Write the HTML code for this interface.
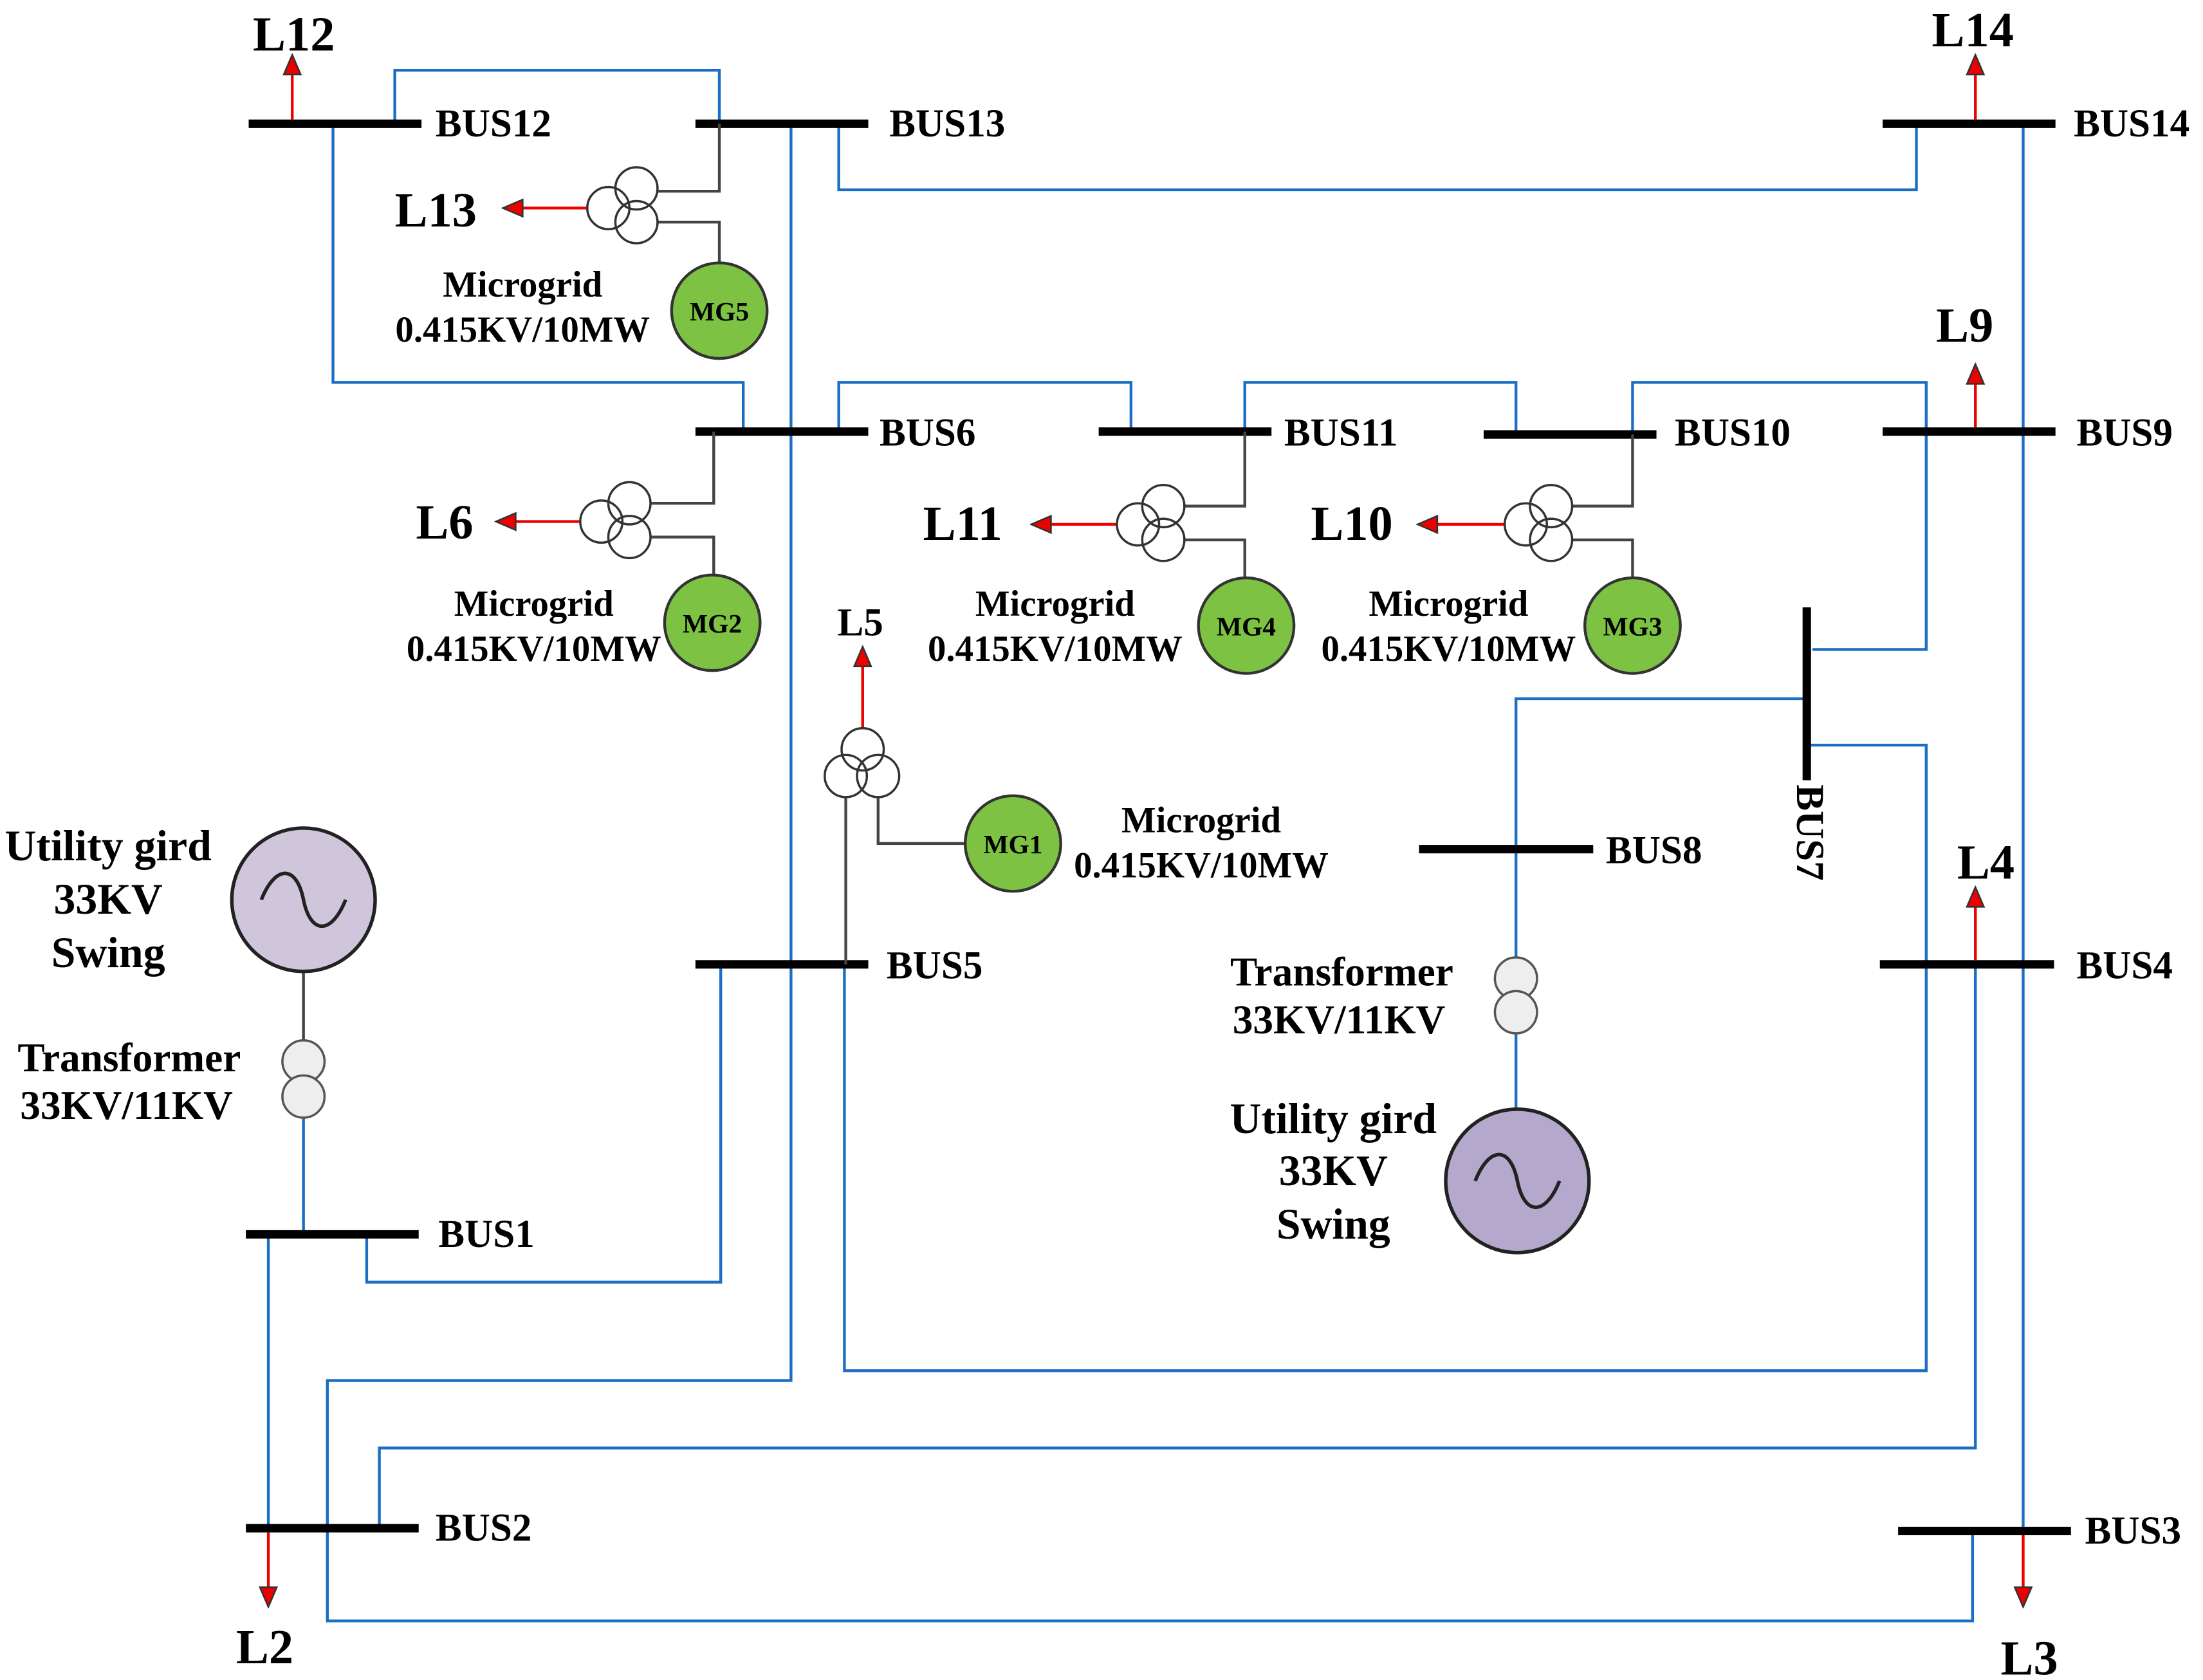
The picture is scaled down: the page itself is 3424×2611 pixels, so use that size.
<!DOCTYPE html>
<html><head><meta charset="utf-8"><style>
html,body{margin:0;padding:0;background:#fff;}
svg{display:block;}
text{font-family:"Liberation Serif",serif;font-weight:bold;fill:#000;}
.b{font-size:28px;}
.l{font-size:35px;}
.m{font-size:26px;}
.u{font-size:31px;}
.bus{stroke:#000;stroke-width:6;}
.bl{stroke:#1a6ec4;stroke-width:2;fill:none;}
.g{stroke:#444;stroke-width:2;fill:none;}
.r{stroke:#e00;stroke-width:2;}
.tc{fill:none;stroke:#333;stroke-width:1.6;}
.mg{fill:#7dc242;stroke:#333;stroke-width:2;}
</style></head><body>
<svg width="3424" height="2611" viewBox="0 0 1568 1195" preserveAspectRatio="none" xmlns="http://www.w3.org/2000/svg">
<defs><marker id="ah" markerWidth="16" markerHeight="14" refX="12" refY="7" orient="auto" markerUnits="userSpaceOnUse" viewBox="0 0 16 14"><path d="M1,1 L15,7 L1,13 z" fill="#e00" stroke="#333" stroke-width="1.2"/></marker></defs>

<!-- blue lines -->
<polyline class="bl" points="281,88 281,50 512,50 512,88"/>
<polyline class="bl" points="237,88 237,272 529,272 529,307"/>
<polyline class="bl" points="597,88 597,135 1364,135 1364,88"/>
<polyline class="bl" points="563,88 563,982 233,982 233,1153 1404,1153 1404,1089"/>
<polyline class="bl" points="597,307 597,272 805,272 805,307"/>
<polyline class="bl" points="886,307 886,272 1079,272 1079,307"/>
<polyline class="bl" points="1162,307 1162,272 1371,272 1371,462 1290,462"/>
<polyline class="bl" points="1286,497 1079,497 1079,681"/>
<polyline class="bl" points="1286,530 1371,530 1371,975 601,975 601,686"/>
<polyline class="bl" points="1440,88 1440,1089"/>
<polyline class="bl" points="1406,686 1406,1030 270,1030 270,1087"/>
<polyline class="bl" points="513,686 513,912 261,912 261,878"/>
<polyline class="bl" points="191,878 191,1087"/>
<polyline class="bl" points="216,795 216,878"/>
<polyline class="bl" points="1079,735 1079,789"/>

<!-- buses -->
<line class="bus" x1="177" y1="88" x2="300" y2="88"/>
<line class="bus" x1="495" y1="88" x2="618" y2="88"/>
<line class="bus" x1="1340" y1="88" x2="1463" y2="88"/>
<line class="bus" x1="495" y1="307" x2="618" y2="307"/>
<line class="bus" x1="782" y1="307" x2="905" y2="307"/>
<line class="bus" x1="1056" y1="309" x2="1179" y2="309"/>
<line class="bus" x1="1340" y1="307" x2="1463" y2="307"/>
<line class="bus" x1="1286" y1="432" x2="1286" y2="555"/>
<line class="bus" x1="1010" y1="604" x2="1134" y2="604"/>
<line class="bus" x1="495" y1="686" x2="618" y2="686"/>
<line class="bus" x1="1338" y1="686" x2="1462" y2="686"/>
<line class="bus" x1="175" y1="878" x2="298" y2="878"/>
<line class="bus" x1="175" y1="1087" x2="298" y2="1087"/>
<line class="bus" x1="1351" y1="1089" x2="1474" y2="1089"/>

<g class="b">
<text x="310" y="97">BUS12</text>
<text x="633" y="97">BUS13</text>
<text x="1476" y="97">BUS14</text>
<text x="626" y="317">BUS6</text>
<text x="914" y="317">BUS11</text>
<text x="1192" y="317">BUS10</text>
<text x="1478" y="317">BUS9</text>
<text x="1143" y="614">BUS8</text>
<text x="631" y="696">BUS5</text>
<text x="1478" y="696">BUS4</text>
<text x="312" y="887">BUS1</text>
<text x="310" y="1096">BUS2</text>
<text x="1484" y="1098">BUS3</text>
<text transform="translate(1279,558) rotate(90)">BUS7</text>
</g>

<!-- loads -->
<line class="r" x1="208" y1="85" x2="208" y2="42" marker-end="url(#ah)"/>
<line class="r" x1="1406" y1="85" x2="1406" y2="42" marker-end="url(#ah)"/>
<line class="r" x1="1406" y1="304" x2="1406" y2="262" marker-end="url(#ah)"/>
<line class="r" x1="1406" y1="683" x2="1406" y2="634" marker-end="url(#ah)"/>
<line class="r" x1="191" y1="1090" x2="191" y2="1140" marker-end="url(#ah)"/>
<line class="r" x1="1440" y1="1092" x2="1440" y2="1140" marker-end="url(#ah)"/>
<g class="l">
<text x="180" y="36">L12</text>
<text x="1375" y="33">L14</text>
<text x="1378" y="243">L9</text>
<text x="1393" y="625">L4</text>
<text x="168" y="1183">L2</text>
<text x="1424" y="1191">L3</text>
<text x="281" y="161">L13</text>
<text x="296" y="383">L6</text>
<text x="657" y="384">L11</text>
<text x="933" y="384">L10</text>
</g>
<text x="596" y="452" style="font-size:28px">L5</text>

<!-- MG5 -->
<polyline class="g" points="468,136 512,136 512,88"/>
<polyline class="g" points="468,158 512,158 512,188"/>
<line class="r" x1="418" y1="148" x2="361" y2="148" marker-end="url(#ah)"/>
<circle class="tc" cx="433" cy="148" r="15"/><circle class="tc" cx="453" cy="134" r="15"/><circle class="tc" cx="453" cy="158" r="15"/>
<circle class="mg" cx="512" cy="221" r="34"/><text x="512" y="228" text-anchor="middle" style="font-size:19px">MG5</text>
<text class="m" x="372" y="211" text-anchor="middle">Microgrid</text>
<text class="m" x="372" y="243" text-anchor="middle">0.415KV/10MW</text>

<!-- MG2 -->
<polyline class="g" points="463,358 508,358 508,307"/>
<polyline class="g" points="463,382 508,382 508,410"/>
<line class="r" x1="413" y1="371" x2="356" y2="371" marker-end="url(#ah)"/>
<circle class="tc" cx="428" cy="371" r="15"/><circle class="tc" cx="448" cy="358" r="15"/><circle class="tc" cx="448" cy="382" r="15"/>
<circle class="mg" cx="507" cy="443" r="34"/><text x="507" y="450" text-anchor="middle" style="font-size:19px">MG2</text>
<text class="m" x="380" y="438" text-anchor="middle">Microgrid</text>
<text class="m" x="380" y="470" text-anchor="middle">0.415KV/10MW</text>

<!-- MG4 -->
<polyline class="g" points="843,360 886,360 886,307"/>
<polyline class="g" points="843,384 886,384 886,411"/>
<line class="r" x1="795" y1="373" x2="737" y2="373" marker-end="url(#ah)"/>
<circle class="tc" cx="810" cy="373" r="15"/><circle class="tc" cx="828" cy="360" r="15"/><circle class="tc" cx="828" cy="384" r="15"/>
<circle class="mg" cx="887" cy="445" r="34"/><text x="887" y="452" text-anchor="middle" style="font-size:19px">MG4</text>
<text class="m" x="751" y="438" text-anchor="middle">Microgrid</text>
<text class="m" x="751" y="470" text-anchor="middle">0.415KV/10MW</text>

<!-- MG3 -->
<polyline class="g" points="1119,360 1162,360 1162,309"/>
<polyline class="g" points="1119,384 1162,384 1162,411"/>
<line class="r" x1="1071" y1="373" x2="1012" y2="373" marker-end="url(#ah)"/>
<circle class="tc" cx="1086" cy="373" r="15"/><circle class="tc" cx="1104" cy="360" r="15"/><circle class="tc" cx="1104" cy="384" r="15"/>
<circle class="mg" cx="1162" cy="445" r="34"/><text x="1162" y="452" text-anchor="middle" style="font-size:19px">MG3</text>
<text class="m" x="1031" y="438" text-anchor="middle">Microgrid</text>
<text class="m" x="1031" y="470" text-anchor="middle">0.415KV/10MW</text>

<!-- MG1 -->
<line class="r" x1="614" y1="518" x2="614" y2="463" marker-end="url(#ah)"/>
<polyline class="g" points="602,567 602,686"/>
<polyline class="g" points="625,567 625,600 687,600"/>
<circle class="tc" cx="602" cy="552" r="15"/><circle class="tc" cx="614" cy="533" r="15"/><circle class="tc" cx="625" cy="552" r="15"/>
<circle class="mg" cx="721" cy="600" r="34"/><text x="721" y="607" text-anchor="middle" style="font-size:19px">MG1</text>
<text class="m" x="855" y="592" text-anchor="middle">Microgrid</text>
<text class="m" x="855" y="624" text-anchor="middle">0.415KV/10MW</text>

<!-- Utility left -->
<line class="g" x1="216" y1="691" x2="216" y2="741"/>
<circle cx="216" cy="640" r="51" fill="#cfc6dc" stroke="#222" stroke-width="2.5"/>
<path d="M186,640 C196,615 211,615 216,640 C221,665 236,665 246,640" fill="none" stroke="#222" stroke-width="2.5"/>
<circle cx="216" cy="755" r="15" fill="#eee" stroke="#555" stroke-width="1.6"/>
<circle cx="216" cy="780" r="15" fill="#eee" stroke="#555" stroke-width="1.6"/>
<text class="u" x="77" y="612" text-anchor="middle">Utility gird</text>
<text class="u" x="77" y="650" text-anchor="middle">33KV</text>
<text class="u" x="77" y="688" text-anchor="middle">Swing</text>
<text class="u" x="92" y="762" text-anchor="middle" style="font-size:29px">Transformer</text>
<text class="u" x="90" y="796" text-anchor="middle" style="font-size:29px">33KV/11KV</text>

<!-- Utility right -->
<circle cx="1079" cy="696" r="15" fill="#eee" stroke="#555" stroke-width="1.6"/>
<circle cx="1079" cy="720" r="15" fill="#eee" stroke="#555" stroke-width="1.6"/>
<circle cx="1080" cy="840" r="51" fill="#b4a8cc" stroke="#222" stroke-width="2.5"/>
<path d="M1050,840 C1060,815 1075,815 1080,840 C1085,865 1100,865 1110,840" fill="none" stroke="#222" stroke-width="2.5"/>
<text class="u" x="955" y="701" text-anchor="middle" style="font-size:29px">Transformer</text>
<text class="u" x="953" y="735" text-anchor="middle" style="font-size:29px">33KV/11KV</text>
<text class="u" x="949" y="806" text-anchor="middle">Utility gird</text>
<text class="u" x="949" y="843" text-anchor="middle">33KV</text>
<text class="u" x="949" y="881" text-anchor="middle">Swing</text>
</svg>
</body></html>
